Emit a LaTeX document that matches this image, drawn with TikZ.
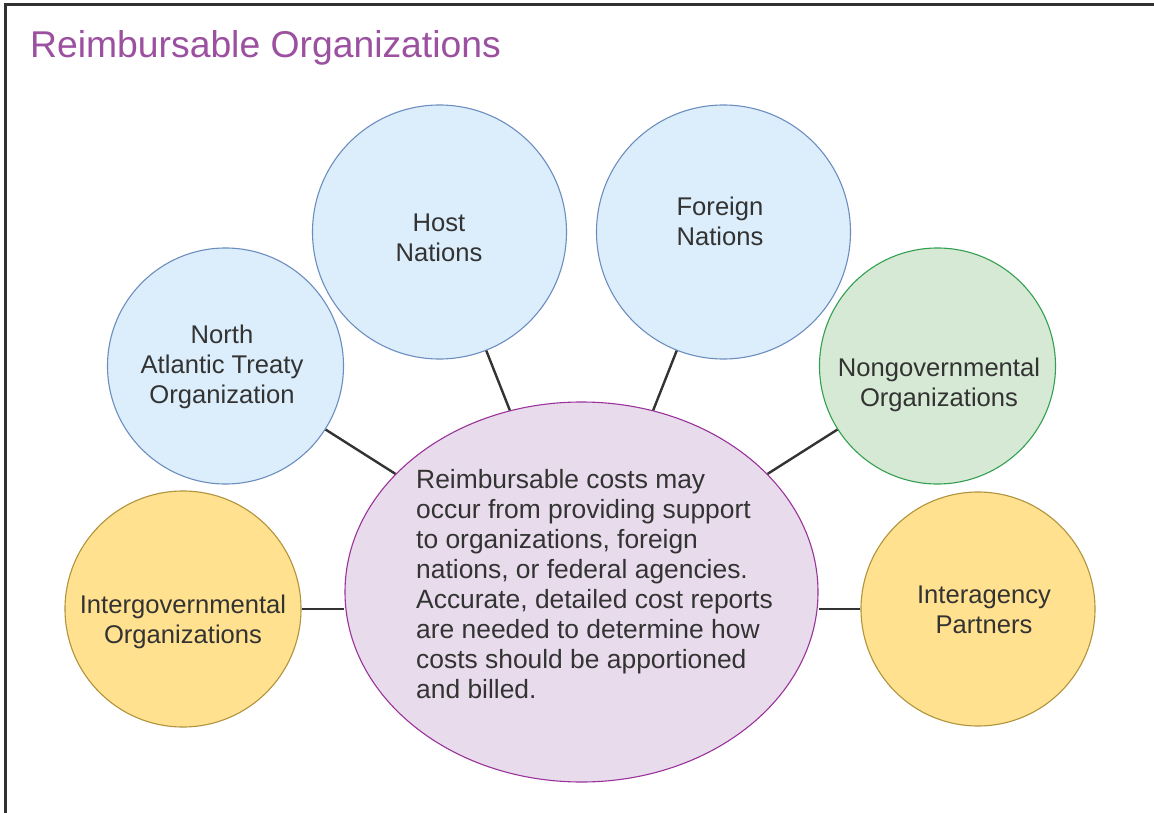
\documentclass[tikz,border=0pt]{standalone}
\usepackage{fontspec}
\setmainfont{Liberation Sans}
\usetikzlibrary{shapes.geometric}
\definecolor{txtgray}{RGB}{51,51,51}
\definecolor{framegray}{RGB}{50,50,50}
\definecolor{titlepurple}{RGB}{155,80,160}
\definecolor{bluefill}{RGB}{220,238,251}
\definecolor{blueline}{RGB}{108,142,191}
\definecolor{greenfill}{RGB}{214,233,212}
\definecolor{greenline}{RGB}{50,160,80}
\definecolor{yellowfill}{RGB}{255,225,143}
\definecolor{yellowline}{RGB}{176,148,60}
\definecolor{purplefill}{RGB}{232,220,236}
\definecolor{purpleline}{RGB}{155,50,155}
\newcommand\tstrut{\rule{0pt}{20pt}}
\tikzset{
  bubble/.style={circle, inner sep=0pt, line width=1.1pt},
  bluebub/.style={bubble, fill=bluefill, draw=blueline},
  greenbub/.style={bubble, fill=greenfill, draw=greenline},
  yellowbub/.style={bubble, fill=yellowfill, draw=yellowline},
  lbl/.style={inner sep=0pt, anchor=north, align=center, text=txtgray,
    font={\fontsize{25.6}{30}\selectfont}},
  mainlbl/.style={lbl, anchor=north west, align=left,
    font={\fontsize{26.4}{30}\selectfont}},
  link/.style={draw=txtgray, line width=2.4pt},
}
\begin{document}
\begin{tikzpicture}[x=1pt, y=-1pt]
\useasboundingbox (0,0) rectangle (1154,813);
\fill[white] (0,0) rectangle (1154,813);
\draw[framegray, line width=3pt] (5,830) -- (5,4.5) -- (1170,4.5);
\node[anchor=base west, inner sep=0pt, text=titlepurple,
  font={\fontsize{37.3}{40}\selectfont}] (title) at (30,58) {Reimbursable Organizations};

\node[ellipse, inner sep=0pt, minimum width=473pt, minimum height=380pt,
  fill=purplefill, draw=purpleline, line width=1.1pt] (main) at (581.5,592) {};
\node[bluebub, minimum size=254pt] (host) at (439.5,232) {};
\node[bluebub, minimum size=254pt] (foreign) at (723.5,232) {};
\node[bluebub, minimum size=236pt] (nato) at (225.5,366) {};
\node[greenbub, minimum size=236pt] (nongov) at (937.5,366) {};
\node[yellowbub, minimum size=236pt] (intergov) at (183,609) {};
\node[yellowbub, minimum size=234pt] (interag) at (978,609) {};

\path[link] (nato) -- (main);
\path[link] (host) -- (main);
\path[link] (foreign) -- (main);
\path[link] (nongov) -- (main);
\path[link] (intergov.east) -- (main.west |- intergov.east);
\path[link] (interag.west) -- (main.east |- interag.west);

\node[lbl] (tnato) at (222,323) {\tstrut North\\Atlantic Treaty\\Organization};
\node[lbl] (thost) at (439,211) {\tstrut Host\\Nations};
\node[lbl] (tforeign) at (720,195) {\tstrut Foreign\\Nations};
\node[lbl] (tnongov) at (939,356) {\tstrut Nongovernmental\\Organizations};
\node[lbl] (tintergov) at (183,593) {\tstrut Intergovernmental\\Organizations};
\node[lbl] (tinterag) at (984,583) {\tstrut Interagency\\Partners};
\node[mainlbl] (tmain) at (416,468) {\tstrut Reimbursable costs may\\
occur from providing support\\
to organizations, foreign\\
nations, or federal agencies.\\
Accurate, detailed cost reports\\
are needed to determine how\\
costs should be apportioned\\
and billed.};
\end{tikzpicture}
\end{document}
